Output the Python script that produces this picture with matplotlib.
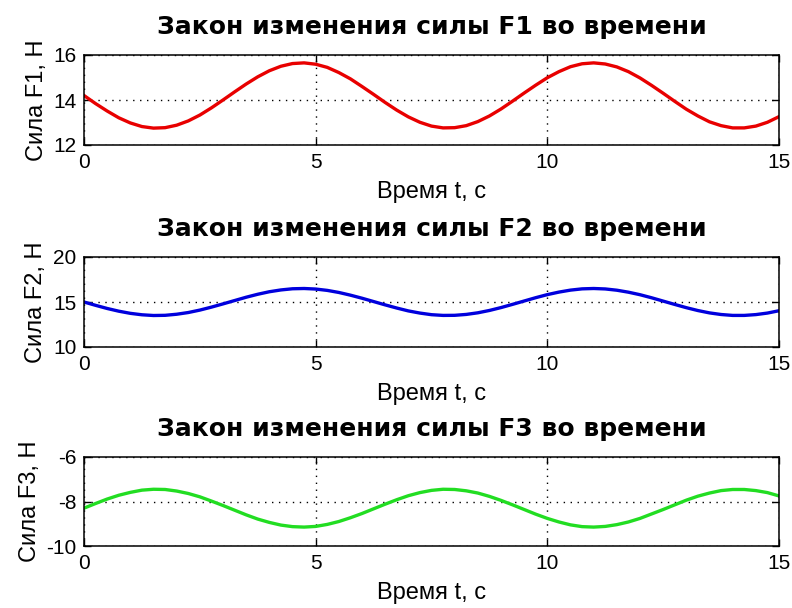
import matplotlib
matplotlib.use("Agg")
import matplotlib.pyplot as plt
import numpy as np

plt.rcParams['font.family'] = ['Liberation Sans', 'DejaVu Sans']
plt.rcParams['axes.unicode_minus'] = False

# time grid, s
t = np.linspace(0, 15, 61)

# values (step 0.25 s)
F1 = [14.20, 13.84, 13.51, 13.21, 12.98, 12.82, 12.75, 12.77, 12.88, 13.07,
      13.33, 13.65, 14.00, 14.36, 14.71, 15.03, 15.30, 15.50, 15.62, 15.65,
      15.59, 15.45, 15.22, 14.94, 14.60, 14.25, 13.89, 13.55, 13.25, 13.01,
      12.84, 12.76, 12.77, 12.86, 13.04, 13.29, 13.60, 13.95, 14.31, 14.66,
      14.99, 15.26, 15.48, 15.61, 15.65, 15.60, 15.47, 15.26, 14.98, 14.65,
      14.30, 13.94, 13.59, 13.29, 13.03, 12.86, 12.76, 12.76, 12.84, 13.01,
      13.26]
F2 = [15.00, 14.63, 14.28, 13.98, 13.74, 13.58, 13.50, 13.52, 13.64, 13.83,
      14.10, 14.43, 14.79, 15.16, 15.53, 15.86, 16.14, 16.34, 16.47, 16.50,
      16.44, 16.29, 16.06, 15.76, 15.42, 15.05, 14.68, 14.33, 14.01, 13.77,
      13.59, 13.51, 13.52, 13.62, 13.80, 14.06, 14.38, 14.74, 15.11, 15.48,
      15.82, 16.10, 16.32, 16.46, 16.50, 16.45, 16.31, 16.09, 15.81, 15.47,
      15.10, 14.73, 14.37, 14.05, 13.79, 13.61, 13.51, 13.51, 13.60, 13.77,
      14.03]
F3 = [-8.30, -8.09, -7.89, -7.72, -7.59, -7.49, -7.45, -7.46, -7.53, -7.64,
      -7.79, -7.98, -8.18, -8.39, -8.60, -8.79, -8.94, -9.06, -9.13, -9.15,
      -9.12, -9.03, -8.90, -8.73, -8.54, -8.33, -8.12, -7.92, -7.74, -7.60,
      -7.50, -7.45, -7.46, -7.52, -7.62, -7.77, -7.95, -8.15, -8.36, -8.57,
      -8.76, -8.92, -9.05, -9.13, -9.15, -9.12, -9.04, -8.92, -8.76, -8.56,
      -8.36, -8.15, -7.94, -7.76, -7.62, -7.51, -7.46, -7.46, -7.51, -7.60,
      -7.75]

series = [F1, F2, F3]
names = ['F1', 'F2', 'F3']
colors = ['#e80000', '#0000dd', '#22dd22']
ylims = [(12, 16), (10, 20), (-10, -6)]
yticks = [[12, 14, 16], [10, 15, 20], [-10, -8, -6]]
xticks = [0, 5, 10, 15]

fig = plt.figure(figsize=(7.92, 6.08), dpi=100)
tops = [55, 257, 457]
bottoms = [145, 347, 546]
for i in range(3):
    b = 1 - bottoms[i] / 608
    h = (bottoms[i] - tops[i]) / 608
    ax = fig.add_axes([84 / 792, b, 695 / 792, h])
    ax.plot(t, series[i], color=colors[i], lw=2.4)
    ax.set_xlim(0, 15)
    ax.set_ylim(*ylims[i])
    ax.set_xticks(xticks)
    ax.set_yticks(yticks[i])
    ax.grid(True, color='black', linestyle=(0, (1, 4)), lw=1.0)
    ax.tick_params(direction='in', length=5, width=1, top=True, right=True,
                   labelsize=15)
    ax.tick_params(axis='x', pad=6)
    ax.tick_params(axis='y', pad=5.5)
    for s in ax.spines.values():
        s.set_linewidth(1.1)
    ax.set_title('Закон изменения силы ' + names[i] + ' во времени',
                 fontsize=18, fontweight='bold', family='DejaVu Sans', pad=15)
    ax.set_xlabel('Время t, с', fontsize=17, labelpad=6)
    ax.set_ylabel('Сила ' + names[i] + ', Н', fontsize=17, labelpad=4)

fig.savefig('out.png', dpi=100)
